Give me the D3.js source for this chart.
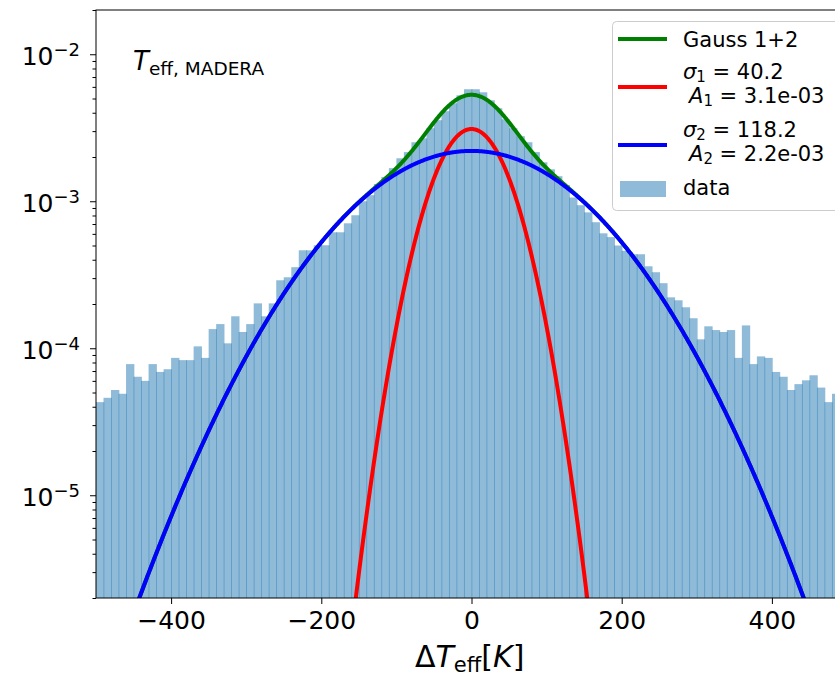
<!DOCTYPE html>
<html>
<head>
<meta charset="utf-8">
<script src="https://cdn.jsdelivr.net/npm/d3@7"></script>
<style>
  body { margin: 0; background: #fff; }
  svg { display: block; }
  text { font-family: "DejaVu Sans", sans-serif; fill: #000; }
</style>
</head>
<body>
<div id="chart"></div>
<script>
// histogram bins (left edges, width 10 K)
const binStarts = d3.range(-500, 500, 10);
// normalised counts, bins -500 .. -10
const densityLeft = [
  4.3e-5, 4.6e-5, 5.2e-5, 4.9e-5, 7.8e-5, 6.4e-5, 6.0e-5, 7.8e-5, 6.9e-5, 7.2e-5,
  8.6e-5, 8.3e-5, 8.3e-5, 1.03e-4, 8.6e-5, 1.35e-4, 1.46e-4, 1.08e-4, 1.65e-4, 1.29e-4,
  1.46e-4, 2.02e-4, 1.65e-4, 2.02e-4, 2.90e-4, 3.04e-4, 3.56e-4, 4.64e-4, 4.64e-4, 5.02e-4,
  5.02e-4, 6.15e-4, 6.15e-4, 7.08e-4, 8.03e-4, 1.00e-3, 1.10e-3, 1.31e-3, 1.46e-3, 1.68e-3,
  1.96e-3, 2.16e-3, 2.52e-3, 2.68e-3, 3.14e-3, 3.56e-3, 4.10e-3, 4.64e-3, 5.26e-3, 5.78e-3
];
// bins 0 .. 490
const densityRight = [
  5.78e-3, 5.51e-3, 4.86e-3, 4.29e-3, 3.61e-3, 3.14e-3, 2.77e-3, 2.52e-3, 2.16e-3, 1.84e-3,
  1.65e-3, 1.48e-3, 1.29e-3, 1.06e-3, 9.4e-4, 8.4e-4, 7.2e-4, 6.05e-4, 5.7e-4, 5.0e-4,
  4.6e-4, 4.36e-4, 4.36e-4, 3.61e-4, 3.29e-4, 2.77e-4, 2.22e-4, 2.12e-4, 1.90e-4, 1.60e-4,
  1.15e-4, 1.41e-4, 1.33e-4, 1.29e-4, 1.33e-4, 8.6e-5, 1.43e-4, 7.8e-5, 8.8e-5, 8.6e-5,
  6.9e-5, 6.4e-5, 5.2e-5, 5.7e-5, 6.05e-5, 6.55e-5, 5.4e-5, 4.3e-5, 4.9e-5, 4.5e-5
];
const density = densityLeft.concat(densityRight);

// fitted gaussians (from the legend)
const sigmas = [40.2, 118.2];
const amps = [3.1e-3, 2.2e-3];

const xTicks = [-400, -200, 0, 200, 400];
const yTicks = [1e-5, 1e-4, 1e-3, 1e-2];
const yTickExp = ["\u22125", "\u22124", "\u22123", "\u22122"];

const width = 835, height = 677;
const margin = {top: 10, left: 96};
const plotW = 751, plotH = 588;

const svg = d3.select("#chart").append("svg")
    .attr("width", width)
    .attr("height", height);

svg.append("defs").append("clipPath").attr("id", "clip")
  .append("rect").attr("width", plotW).attr("height", plotH);

const g = svg.append("g")
    .attr("transform", `translate(${margin.left}, ${margin.top})`);

const x = d3.scaleLinear().domain([-500, 500]).range([0, plotW]);
const y = d3.scaleLog().domain([2e-6, 2e-2]).range([plotH, 0]);

const plot = g.append("g").attr("clip-path", "url(#clip)");

// bars (slight overlap gives the darker seams)
plot.selectAll(".bar")
  .data(binStarts)
  .enter()
  .append("rect")
  .attr("class", "bar")
  .attr("x", d => x(d))
  .attr("width", d => x(d + 10) - x(d) + 0.8)
  .attr("y", (d, i) => y(density[i]))
  .attr("height", (d, i) => plotH - y(density[i]))
  .attr("fill", "#1f77b4")
  .attr("fill-opacity", 0.5);

// fit curves
const xs = d3.range(-500, 500.5, 1);
const gauss = (k, v) => Math.max(amps[k] * Math.exp(-v * v / (2 * sigmas[k] * sigmas[k])), 1e-9);
const line = d3.line().x(d => x(d[0])).y(d => y(d[1]));

const curves = [
  {color: "#008000", pts: xs.map(v => [v, gauss(0, v) + gauss(1, v)])},
  {color: "#ff0000", pts: xs.map(v => [v, gauss(0, v)])},
  {color: "#0000ff", pts: xs.map(v => [v, gauss(1, v)])}
];
plot.selectAll(".fit")
  .data(curves)
  .enter()
  .append("path")
  .attr("class", "fit")
  .attr("d", d => line(d.pts))
  .attr("fill", "none")
  .attr("stroke", d => d.color)
  .attr("stroke-width", 4);

// x axis
const xAxis = g.append("g")
    .attr("transform", `translate(0, ${plotH})`)
    .call(d3.axisBottom(x).tickValues(xTicks).tickSize(6).tickPadding(7)
      .tickFormat(d => d < 0 ? "\u2212" + Math.abs(d) : d));
xAxis.select(".domain").remove();
xAxis.selectAll("text").style("font-size", "25px").attr("font-family", null);

// y axis: minor ticks
const minor = [];
[-6, -5, -4, -3, -2].forEach(e => d3.range(2, 10).forEach(m => {
  const v = m * Math.pow(10, e);
  if (v >= 2e-6 && v <= 2e-2) minor.push(v);
}));
const yMinor = g.append("g")
    .call(d3.axisLeft(y).tickValues(minor).tickSize(3.5).tickFormat(""));
yMinor.select(".domain").remove();

const yAxis = g.append("g")
    .call(d3.axisLeft(y).tickValues(yTicks).tickSize(6).tickFormat(""));
yAxis.select(".domain").remove();

yTicks.forEach((v, i) => {
  const t = g.append("text")
    .attr("x", -16)
    .attr("y", y(v) + 11)
    .attr("text-anchor", "end")
    .style("font-size", "25px")
    .text("10");
  t.append("tspan")
    .attr("dy", -9)
    .style("font-size", "18px")
    .text(yTickExp[i]);
});

// frame
g.append("rect")
  .attr("width", plotW).attr("height", plotH)
  .attr("fill", "none").attr("stroke", "#000").attr("stroke-width", 1);

// axis label
const xl = svg.append("text")
  .attr("x", 415)
  .attr("y", 667)
  .style("font-size", "30px");
xl.append("tspan").text("\u0394");
xl.append("tspan").style("font-style", "italic").text("T");
xl.append("tspan").attr("dy", 5).style("font-size", "21px").text("eff");
xl.append("tspan").attr("dy", -5).text("[");
xl.append("tspan").style("font-style", "italic").text("K");
xl.append("tspan").text("]");

// title in the corner
const tt = svg.append("text")
  .attr("x", 133)
  .attr("y", 70)
  .style("font-size", "26px");
tt.append("tspan").style("font-style", "italic").text("T");
tt.append("tspan").attr("dy", 5).style("font-size", "18.5px").text("eff, MADERA");

// legend
const lg = svg.append("g");
lg.append("rect")
  .attr("x", 612.5).attr("y", 21.5)
  .attr("width", 240).attr("height", 189)
  .attr("rx", 4)
  .attr("fill", "#fff").attr("fill-opacity", 0.8)
  .attr("stroke", "#cccccc");

const legendRows = [
  {color: "#008000", ly: 39},
  {color: "#ff0000", ly: 87},
  {color: "#0000ff", ly: 145}
];
lg.selectAll(".lline")
  .data(legendRows)
  .enter()
  .append("line")
  .attr("x1", 618).attr("x2", 667)
  .attr("y1", d => d.ly).attr("y2", d => d.ly)
  .attr("stroke", d => d.color)
  .attr("stroke-width", 4);
lg.append("rect")
  .attr("x", 620).attr("y", 181).attr("width", 46).attr("height", 16)
  .attr("fill", "#1f77b4").attr("fill-opacity", 0.5);

const fs = "21px";
lg.append("text").attr("x", 683).attr("y", 47).style("font-size", fs).text("Gauss 1+2");

function subLabel(xp, yp, sym, sub, rest) {
  const t = lg.append("text").attr("x", xp).attr("y", yp).style("font-size", fs);
  t.append("tspan").style("font-style", "italic").text(sym);
  t.append("tspan").attr("dy", 3).style("font-size", "15px").text(sub);
  t.append("tspan").attr("dy", -3).text(rest);
}
subLabel(683, 79, "\u03c3", "1", " = 40.2");
subLabel(689, 103, "A", "1", " = 3.1e-03");
subLabel(683, 137, "\u03c3", "2", " = 118.2");
subLabel(689, 161, "A", "2", " = 2.2e-03");
lg.append("text").attr("x", 683).attr("y", 195).style("font-size", fs).text("data");
</script>
</body>
</html>
